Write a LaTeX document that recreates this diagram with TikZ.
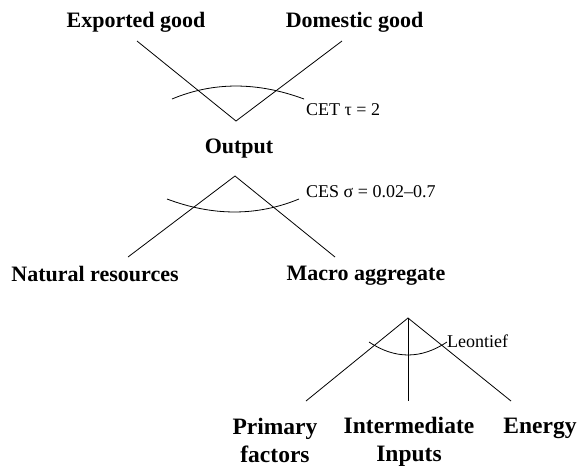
\documentclass[tikz,border=0pt]{standalone}
\usepackage{fontspec}
\setmainfont{Liberation Serif}
\begin{document}
\begin{tikzpicture}[x=1pt,y=-1pt,
  lbl/.style={font=\fontsize{22}{28}\selectfont\bfseries, inner sep=0pt, anchor=base, align=center},
  lblb/.style={lbl, font=\fontsize{23.5}{28}\selectfont\bfseries},
  note/.style={font=\fontsize{18}{20}\selectfont, inner sep=0pt, anchor=base west},
  edge/.style={draw=black, line width=0.8pt},
  elas/.style={draw=black, line width=0.8pt}]
\useasboundingbox (0,0) rectangle (581,467);
% nodes
\node[lbl] (exp) at (136,27.5) {Exported good};
\node[lbl] (dom) at (354.5,27.5) {Domestic good};
\node[lbl] (out) at (239,153) {Output};
\node[lbl] (nat) at (95,281) {Natural resources};
\node[lbl] (mac) at (366,280) {Macro aggregate};
\node[lblb] (pri) at (275,462) {Primary\\factors};
\node[lblb] (int) at (409,461) {Intermediate\\Inputs};
\node[lblb] (ene) at (540,433) {Energy};
% connector ends
\coordinate (expE) at (137,41);
\coordinate (domE) at (342,41);
\coordinate (topA) at (236,121);
\coordinate (midA) at (235,176);
\coordinate (natE) at (128,257);
\coordinate (macE) at (335,257);
\coordinate (botA) at (408,318);
\coordinate (priE) at (306,401);
\coordinate (intE) at (408,401);
\coordinate (eneE) at (511,401);
\draw[edge] (expE) -- (topA) -- (domE);
\draw[edge] (natE) -- (midA) -- (macE);
\draw[edge] (priE) -- (botA) -- (eneE);
\draw[edge] (botA) -- (intE);
% elasticity arcs
\coordinate (a1s) at (172,99);
\coordinate (a1e) at (304,99);
\draw[elas] (a1s) .. controls (213.3,81.7) and (257.3,81.7) .. (a1e);
\coordinate (a2s) at (167,199);
\coordinate (a2e) at (299,199);
\draw[elas] (a2s) .. controls (213,216.3) and (257,216.3) .. (a2e);
\coordinate (a3s) at (369,342);
\coordinate (a3e) at (447,342);
\draw[elas] (a3s) .. controls (395,359.3) and (421,359.3) .. (a3e);
% labels
\node[note] (cet) at (306,115) {CET τ = 2};
\node[note] (ces) at (306,197) {CES σ = 0.02–0.7};
\node[note] (leo) at (447,347) {Leontief};
\end{tikzpicture}
\end{document}
